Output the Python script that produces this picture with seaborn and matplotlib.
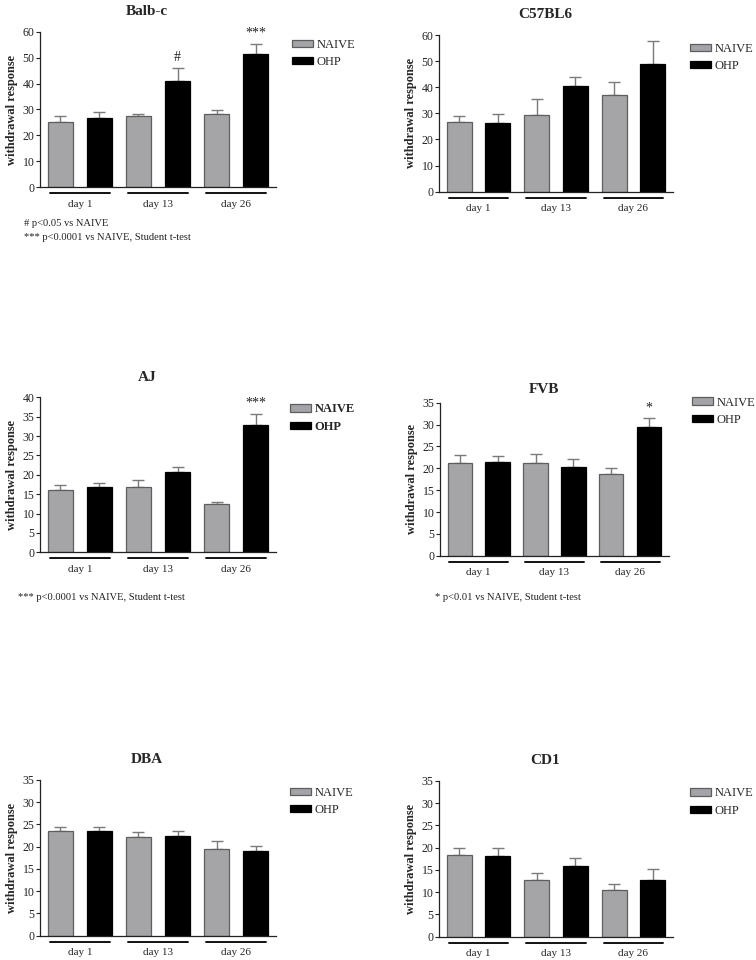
import numpy as np
import pandas as pd
import matplotlib
matplotlib.use("Agg")
import matplotlib.pyplot as plt
import matplotlib.transforms as mtransforms
from matplotlib.patches import Patch
import seaborn as sns


days = ["day 1", "day 13", "day 26"]
groups = ["NAIVE", "OHP"]

# mean and sem
balbc_naive = [25.1, 27.4, 28.4]
balbc_naive_sem = [2.5, 0.7, 1.3]
balbc_ohp = [26.7, 41.1, 51.4]
balbc_ohp_sem = [2.5, 4.8, 4.1]

c57_naive = [26.6, 29.2, 36.9]
c57_naive_sem = [2.4, 6.4, 5.0]
c57_ohp = [26.2, 40.5, 48.8]
c57_ohp_sem = [3.4, 3.3, 8.9]

aj_naive = [16.0, 16.9, 12.4]
aj_naive_sem = [1.3, 1.7, 0.6]
aj_ohp = [16.8, 20.7, 32.8]
aj_ohp_sem = [1.2, 1.4, 3.0]

fvb_naive = [21.3, 21.3, 18.6]
fvb_naive_sem = [1.7, 1.9, 1.4]
fvb_ohp = [21.4, 20.4, 29.4]
fvb_ohp_sem = [1.3, 1.7, 2.0]

dba_naive = [23.6, 22.3, 19.6]
dba_naive_sem = [0.9, 0.9, 1.8]
dba_ohp = [23.5, 22.5, 19.1]
dba_ohp_sem = [1.0, 1.1, 1.0]

cd1_naive = [18.4, 12.8, 10.6]
cd1_naive_sem = [1.6, 1.4, 1.2]
cd1_ohp = [18.2, 15.9, 12.8]
cd1_ohp_sem = [1.7, 1.7, 2.3]

NAIVE_COLOR = "#a4a4a8"
NAIVE_EDGE = "#5e5e5e"
OHP_COLOR = "#000000"
ERR_COLOR = "#7a7a7a"

sns.set_style("white")
plt.rcParams["font.family"] = ["Liberation Serif", "DejaVu Serif"]
plt.rcParams["axes.edgecolor"] = "#222222"
plt.rcParams["axes.linewidth"] = 0.9

panels = [
    # title, naive, naive_sem, ohp, ohp_sem, ymax, ystep, rect, legend anchor, bold legend, title pad, marks
    ("Balb-c", balbc_naive, balbc_naive_sem, balbc_ohp, balbc_ohp_sem, 60, 10,
     (0.0529, 0.8052, 0.3122, 0.1615), (1.068, 0.929), False, 12,
     [(1, 1, "#"), (1, 2, "***")]),
    ("C57BL6", c57_naive, c57_naive_sem, c57_ohp, c57_ohp_sem, 60, 10,
     (0.5807, 0.8003, 0.3095, 0.1632), (1.073, 0.923), False, 12, []),
    ("AJ", aj_naive, aj_naive_sem, aj_ohp, aj_ohp_sem, 40, 5,
     (0.0529, 0.4247, 0.3122, 0.1615), (1.059, 0.933), True, 12,
     [(1, 2, "***")]),
    ("FVB", fvb_naive, fvb_naive_sem, fvb_ohp, fvb_ohp_sem, 35, 5,
     (0.5820, 0.4211, 0.3029, 0.1594), (1.100, 1.013), False, 7,
     [(1, 2, "*")]),
    ("DBA", dba_naive, dba_naive_sem, dba_ohp, dba_ohp_sem, 35, 5,
     (0.0529, 0.0253, 0.3122, 0.1622), (1.059, 0.929), False, 12, []),
    ("CD1", cd1_naive, cd1_naive_sem, cd1_ohp, cd1_ohp_sem, 35, 5,
     (0.5807, 0.0243, 0.3095, 0.1622), (1.073, 0.931), False, 12, []),
]

fig = plt.figure(figsize=(7.56, 9.6), dpi=100)

for (title, nv, nsem, ov, osem, ymax, ystep, rect, leg_xy,
     leg_bold, tpad, marks) in panels:
    ax = fig.add_axes(rect)
    df = pd.DataFrame({
        "day": days * 2,
        "group": ["NAIVE"] * 3 + ["OHP"] * 3,
        "value": nv + ov,
        "sem": nsem + osem,
    })
    sns.barplot(data=df, x="day", y="value", hue="group", hue_order=groups,
                order=days, palette=[NAIVE_COLOR, OHP_COLOR], width=1.0,
                gap=0.36, errorbar=None, legend=False, ax=ax, zorder=2)

    sems = [nsem, osem]
    edges = [NAIVE_EDGE, OHP_COLOR]
    bar_conts = list(ax.containers)
    for gi, cont in enumerate(bar_conts):
        xs, tops = [], []
        for bar in cont:
            bar.set_edgecolor(edges[gi])
            bar.set_linewidth(0.9)
            xs.append(bar.get_x() + bar.get_width() / 2)
            tops.append(bar.get_height())
        ax.errorbar(xs, tops, yerr=[np.zeros(3), sems[gi]], fmt="none",
                    ecolor=ERR_COLOR, elinewidth=1.0, capsize=4,
                    capthick=1.0, zorder=1)
        for g, d, txt in marks:
            if g == gi:
                ax.annotate(txt, (xs[d], tops[d] + sems[gi][d]),
                            xytext=(0, 3), textcoords="offset points",
                            ha="center", va="bottom", fontsize=10,
                            color="#222222")

    ax.set_xlim(-0.51, 2.51)
    ax.set_ylim(0, ymax)
    ax.set_yticks(np.arange(0, ymax + 1, ystep))
    ax.tick_params(axis="y", left=True, length=3, width=0.8, pad=1,
                   labelsize=8.5, colors="#222222")
    ax.tick_params(axis="x", bottom=False, length=0, pad=9, labelsize=8)
    ax.set_xlabel("")
    ax.set_ylabel("withdrawal response", fontsize=9, fontweight="bold",
                  labelpad=3)
    ax.set_title(title, fontsize=11, fontweight="bold", x=0.453, pad=tpad)
    sns.despine(ax=ax)

    # group underlines below the axis
    trans = mtransforms.blended_transform_factory(ax.transData, ax.transAxes)
    for i in range(len(days)):
        ax.plot([i - 0.385, i + 0.385], [-0.04, -0.04], color="#111111",
                lw=1.4, transform=trans, clip_on=False)

    handles = [Patch(facecolor=NAIVE_COLOR, edgecolor=NAIVE_EDGE, lw=0.9),
               Patch(facecolor=OHP_COLOR, edgecolor=OHP_COLOR, lw=0.9)]
    leg = ax.legend(handles, groups, loc="upper left",
                    bbox_to_anchor=(leg_xy[0], leg_xy[1] + 0.027),
                    frameon=False, borderpad=0, borderaxespad=0,
                    handlelength=1.65, handleheight=0.55, handletextpad=0.3,
                    labelspacing=0.42,
                    prop={"size": 9, "weight": "bold" if leg_bold else "normal"})

# footnotes
fig.text(24 / 756, 1 - 223 / 960, "# p<0.05 vs NAIVE", fontsize=7.6,
         va="center", color="#222222")
fig.text(24 / 756, 1 - 237 / 960, "*** p<0.0001 vs NAIVE, Student t-test",
         fontsize=7.6, va="center", color="#222222")
fig.text(18 / 756, 1 - 598 / 960, "*** p<0.0001 vs NAIVE, Student t-test",
         fontsize=7.6, va="center", color="#222222")
fig.text(435 / 756, 1 - 597 / 960, "* p<0.01 vs NAIVE, Student t-test",
         fontsize=7.6, va="center", color="#222222")

plt.savefig("out.png", dpi=100)
plt.close()
